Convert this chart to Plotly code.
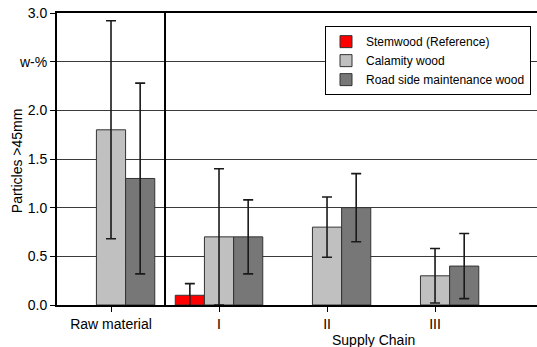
import plotly.graph_objects as go

categories = ["Raw material", "I", "II", "III"]
stemwood = [None, 0.10, None, None]
stemwood_err = [None, 0.12, None, None]
calamity = [1.80, 0.70, 0.80, 0.30]
calamity_err = [1.12, 0.70, 0.31, 0.28]
roadside = [1.30, 0.70, 1.00, 0.40]
roadside_err = [0.98, 0.38, 0.35, 0.335]
y_tickvals = [0, 0.5, 1.0, 1.5, 2.0, 2.5, 3.0]
y_ticktext = ["0.0", "0.5", "1.0", "1.5", "2.0", "w-%", "3.0"]

FONT = "Liberation Sans, Arial, sans-serif"

def err(arr):
    return dict(type="data", array=arr, visible=True, color="#1a1a1a",
                thickness=1.6, width=5)

fig = go.Figure()
fig.add_trace(go.Bar(name="Stemwood (Reference)", x=categories, y=stemwood,
                     error_y=err(stemwood_err),
                     marker=dict(color="#ff0000", line=dict(color="#333333", width=1))))
fig.add_trace(go.Bar(name="Calamity wood", x=categories, y=calamity,
                     error_y=err(calamity_err),
                     marker=dict(color="#c0c0c0", line=dict(color="#333333", width=1))))
fig.add_trace(go.Bar(name="Road side maintenance wood", x=categories, y=roadside,
                     error_y=err(roadside_err),
                     marker=dict(color="#777777", line=dict(color="#333333", width=1))))

# separator line between raw material and supply chain
fig.add_shape(type="line", xref="x", yref="y", x0=0.5, x1=0.5, y0=0, y1=3,
              line=dict(color="black", width=2))

fig.add_annotation(text="Supply Chain", xref="paper", yref="paper",
                   x=0.66, y=-0.12, xanchor="center", yanchor="middle",
                   showarrow=False, font=dict(family=FONT, size=14, color="black"))
fig.add_annotation(text="Particles >45mm", xref="paper", yref="paper",
                   x=-0.083, y=0.493, xanchor="center", yanchor="middle",
                   textangle=-90, showarrow=False,
                   font=dict(family=FONT, size=14, color="black"))

fig.update_layout(
    width=537, height=347,
    margin=dict(l=57, r=0, t=13, b=42, autoexpand=False),
    paper_bgcolor="white", plot_bgcolor="white",
    barmode="group", bargap=0.19, bargroupgap=0,
    font=dict(family=FONT, size=14, color="black"),
    legend=dict(x=0.9875, y=0.955, xanchor="right", yanchor="top",
                bgcolor="white", bordercolor="black", borderwidth=1,
                font=dict(family=FONT, size=12, color="black"),
                tracegroupgap=0, itemwidth=30),
    xaxis=dict(type="category", categoryorder="array", categoryarray=categories,
               range=[-0.5, 3.944], showline=True, linecolor="black", linewidth=1.5,
               mirror=True, ticks="outside", ticklen=5, tickcolor="black",
               showgrid=False, tickfont=dict(size=14, color="black")),
    yaxis=dict(range=[0, 3], tickvals=y_tickvals, ticktext=y_ticktext,
               showline=True, linecolor="black", linewidth=2,
               ticks="outside", ticklen=5, tickcolor="black",
               showgrid=True, gridcolor="#3a3a3a", gridwidth=1, zeroline=False,
               tickfont=dict(size=14, color="black")),
    showlegend=True,
)

fig.write_html("out.html", config={"displayModeBar": False},
               post_script="document.body.style.margin='0';document.body.style.overflow='hidden';")
